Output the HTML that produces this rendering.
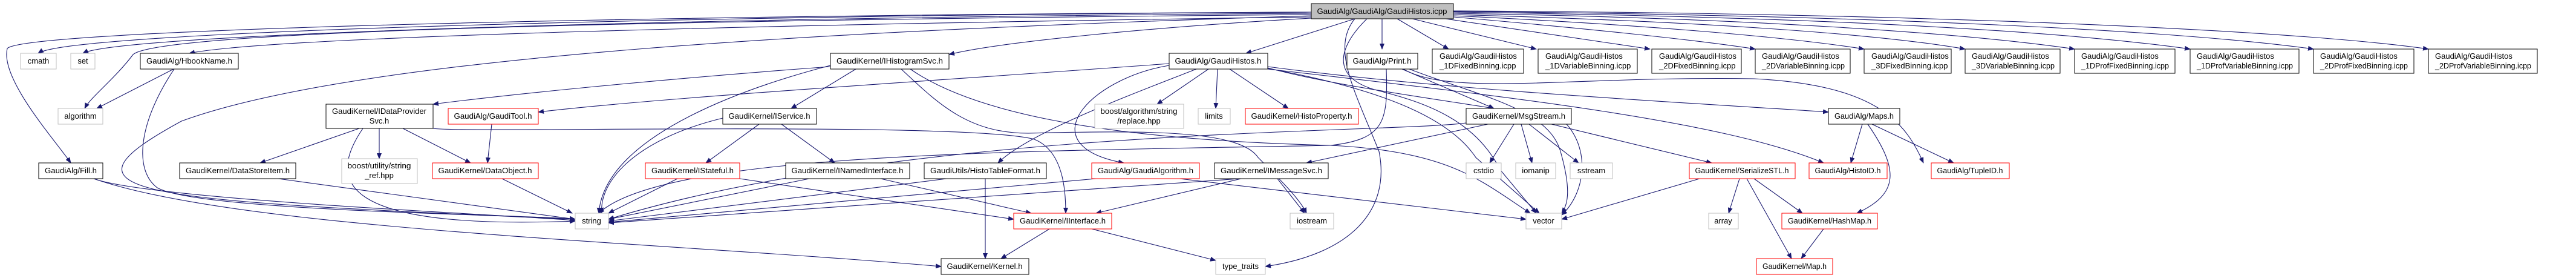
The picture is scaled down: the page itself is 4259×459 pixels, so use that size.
<!DOCTYPE html>
<html><head><meta charset="utf-8"><style>
html,body{margin:0;padding:0;background:#fff;}
svg{display:block;}
text{font-family:"Liberation Sans",sans-serif;font-size:13px;fill:#000;}
.e{fill:none;stroke:#191970;stroke-width:1.1;marker-end:url(#a);}
.n{fill:#fff;stroke:#000;stroke-width:1;}
.r{fill:#fff;stroke:#ff0000;stroke-width:1;}
.g{fill:#fff;stroke:#bfbfbf;stroke-width:1;}
</style></head><body>
<svg width="4259" height="459" viewBox="0 0 4259 459" xmlns="http://www.w3.org/2000/svg">
<defs><marker id="a" markerUnits="userSpaceOnUse" markerWidth="10" markerHeight="8" refX="9" refY="4" orient="auto"><path d="M0,0 L10,4 L0,8 z" fill="#191970"/></marker></defs>
<!-- edges from root -->
<path class="e" d="M2168,20 C1200,25 120,50 63,88"/>
<path class="e" d="M2168,22 C1200,28 200,55 137,88"/>
<path class="e" d="M2168,28 C1300,40 450,60 313,88"/>
<path class="e" d="M2168,24 C900,35 260,55 220,90 C190,130 150,160 140,179"/>
<path class="e" d="M2168,20 C1000,25 40,50 12,80 C0,130 90,230 117,269"/>
<path class="e" d="M2168,26 C1400,50 600,90 300,200 C80,320 200,330 951,362"/>
<path class="e" d="M2168,30 C1900,45 1650,70 1569,90"/>
<path class="e" d="M2240,31 L2060,88"/>
<path class="e" d="M2285,31 L2285,81"/>
<path class="e" d="M2310,31 L2395,81"/>
<path class="e" d="M2335,31 L2540,81"/>
<path class="e" d="M2390,31 L2728,81"/>
<path class="e" d="M2403,28 C2600,45 2800,65 2902,81"/>
<path class="e" d="M2403,26 C2700,40 2950,60 3082,81"/>
<path class="e" d="M2403,24 C2800,35 3100,55 3249,81"/>
<path class="e" d="M2403,22 C2900,30 3250,55 3430,81"/>
<path class="e" d="M2403,20 C3000,28 3400,50 3621,81"/>
<path class="e" d="M2403,19 C3100,25 3600,50 3825,81"/>
<path class="e" d="M2403,18 C3200,22 3800,50 4015,81"/>
<path class="e" d="M2240,31 C2200,80 2240,150 2280,250 C2300,350 2230,420 2092,440"/>
<path class="e" d="M2260,31 C2210,80 2200,130 2280,150 C2360,170 2440,200 2480,280 L2540,352"/>
<!-- IHistogramSvc -->
<path class="e" d="M1373,110 C1100,130 850,155 716,172"/>
<path class="e" d="M1415,114 L1308,179"/>
<path class="e" d="M1373,108 C1250,140 1000,220 990,352"/>
<path class="e" d="M1490,114 C1550,170 1600,220 1700,220 C1900,215 2050,215 2080,260 C2120,300 2150,330 2160,352"/>
<path class="e" d="M1505,114 C1600,180 1800,230 2200,240 C2400,250 2450,300 2530,352"/>
<!-- GaudiHistos.h -->
<path class="e" d="M1933,105 C1600,130 1100,160 890,185"/>
<path class="e" d="M1978,114 C1860,160 1700,220 1650,269"/>
<path class="e" d="M1933,108 C1800,130 1700,240 1858,269"/>
<path class="e" d="M1998,114 L1913,172"/>
<path class="e" d="M2013,114 L2010,179"/>
<path class="e" d="M2033,114 L2130,179"/>
<path class="e" d="M2096,112 C2200,140 2350,160 2470,179"/>
<path class="e" d="M2096,110 C2400,150 2800,170 3023,185"/>
<path class="e" d="M2096,114 C2500,160 2850,200 3015,269"/>
<path class="e" d="M2096,113 C2300,150 2400,200 2440,260 L2545,352"/>
<!-- Print.h -->
<path class="e" d="M2292,114 C2295,200 2290,230 2200,240 C1700,250 1100,250 990,352"/>
<path class="e" d="M2318,114 L2470,179"/>
<path class="e" d="M2320,114 C2400,160 2600,125 2900,130 C3100,140 3150,200 3180,269"/>
<path class="e" d="M2330,114 C2450,160 2560,180 2580,250 C2600,320 2590,340 2582,352"/>
<!-- MsgStream -->
<path class="e" d="M2424,203 C2300,220 1500,210 1006,362"/>
<path class="e" d="M2460,205 L2160,269"/>
<path class="e" d="M2503,205 L2463,269"/>
<path class="e" d="M2515,205 L2533,269"/>
<path class="e" d="M2528,205 L2610,269"/>
<path class="e" d="M2565,205 L2830,269"/>
<path class="e" d="M2590,205 C2630,250 2620,320 2582,355"/>
<!-- Maps -->
<path class="e" d="M3079,205 L3060,269"/>
<path class="e" d="M3095,205 L3230,269"/>
<path class="e" d="M3088,205 C3140,280 3140,320 3070,352"/>
<!-- DataProviderSvc -->
<path class="e" d="M594,212 L430,269"/>
<path class="e" d="M627,212 L627,262"/>
<path class="e" d="M666,212 L778,269"/>
<path class="e" d="M600,212 C540,300 560,380 951,365"/>
<path class="e" d="M716,212 C760,220 1600,200 1710,230 C1760,250 1762,320 1762,352"/>
<!-- others -->
<path class="e" d="M813,205 L806,269"/>
<path class="e" d="M1255,205 L1167,269"/>
<path class="e" d="M1292,205 L1380,269"/>
<path class="e" d="M1195,195 C1050,230 990,300 995,352"/>
<path class="e" d="M288,114 C230,200 220,280 260,310 C330,350 900,355 951,362"/>
<path class="e" d="M287,114 L160,179"/>
<path class="e" d="M155,295 C250,330 850,355 951,364"/>
<path class="e" d="M155,295 C400,380 1100,400 1556,440"/>
<path class="e" d="M460,295 L951,362"/>
<path class="e" d="M830,295 L946,352"/>
<path class="e" d="M1120,295 L1006,352"/>
<path class="e" d="M1223,295 L1676,362"/>
<path class="e" d="M1338,295 L1006,362"/>
<path class="e" d="M1456,295 L1705,352"/>
<path class="e" d="M1565,295 L1006,365"/>
<path class="e" d="M1629,295 L1629,427"/>
<path class="e" d="M1812,295 L1006,367"/>
<path class="e" d="M1950,295 L2523,362"/>
<path class="e" d="M2050,295 L1006,368"/>
<path class="e" d="M2052,295 L1812,352"/>
<path class="e" d="M2112,295 L2157,352"/>
<path class="e" d="M1735,378 L1655,427"/>
<path class="e" d="M1805,378 L2010,430"/>
<path class="e" d="M2810,295 L2582,362"/>
<path class="e" d="M2876,295 L2858,352"/>
<path class="e" d="M2900,295 L2980,352"/>
<path class="e" d="M2888,295 L2962,427"/>
<path class="e" d="M3015,378 L2978,427"/>
<!-- nodes -->
<rect x="2168" y="6" width="235" height="25" fill="#bfbfbf" stroke="#000"/>
<text x="2285" y="23" text-anchor="middle" textLength="215" lengthAdjust="spacingAndGlyphs">GaudiAlg/GaudiAlg/GaudiHistos.icpp</text>
<rect class="g" x="34" y="88" width="59" height="26"/><text x="63.5" y="105" text-anchor="middle">cmath</text>
<rect class="g" x="117" y="88" width="40" height="26"/><text x="137" y="105" text-anchor="middle">set</text>
<rect class="n" x="232" y="88" width="162" height="26"/><text x="313" y="105" text-anchor="middle" textLength="142" lengthAdjust="spacingAndGlyphs">GaudiAlg/HbookName.h</text>
<rect class="n" x="1373" y="88" width="196" height="26"/><text x="1471" y="105" text-anchor="middle" textLength="176" lengthAdjust="spacingAndGlyphs">GaudiKernel/IHistogramSvc.h</text>
<rect class="n" x="1933" y="88" width="163" height="26"/><text x="2014" y="105" text-anchor="middle" textLength="143" lengthAdjust="spacingAndGlyphs">GaudiAlg/GaudiHistos.h</text>
<rect class="n" x="2227" y="88" width="117" height="26"/><text x="2285" y="105" text-anchor="middle" textLength="97" lengthAdjust="spacingAndGlyphs">GaudiAlg/Print.h</text>
<g>
<rect class="n" x="2368" y="81" width="151" height="40"/><text x="2380" y="97">GaudiAlg/GaudiHistos</text><text x="2380" y="113">_1DFixedBinning.icpp</text>
<rect class="n" x="2543" y="81" width="164" height="40"/><text x="2555" y="97">GaudiAlg/GaudiHistos</text><text x="2555" y="113">_1DVariableBinning.icpp</text>
<rect class="n" x="2731" y="81" width="148" height="40"/><text x="2743" y="97">GaudiAlg/GaudiHistos</text><text x="2743" y="113">_2DFixedBinning.icpp</text>
<rect class="n" x="2902" y="81" width="157" height="40"/><text x="2913" y="97">GaudiAlg/GaudiHistos</text><text x="2913" y="113" textLength="137" lengthAdjust="spacingAndGlyphs">_2DVariableBinning.icpp</text>
<rect class="n" x="3082" y="81" width="144" height="40"/><text x="3094" y="97">GaudiAlg/GaudiHistos</text><text x="3094" y="113">_3DFixedBinning.icpp</text>
<rect class="n" x="3249" y="81" width="157" height="40"/><text x="3260" y="97">GaudiAlg/GaudiHistos</text><text x="3260" y="113" textLength="137" lengthAdjust="spacingAndGlyphs">_3DVariableBinning.icpp</text>
<rect class="n" x="3430" y="81" width="166" height="40"/><text x="3441" y="97">GaudiAlg/GaudiHistos</text><text x="3441" y="113" textLength="145" lengthAdjust="spacingAndGlyphs">_1DProfFixedBinning.icpp</text>
<rect class="n" x="3621" y="81" width="180" height="40"/><text x="3632" y="97">GaudiAlg/GaudiHistos</text><text x="3632" y="113" textLength="159" lengthAdjust="spacingAndGlyphs">_1DProfVariableBinning.icpp</text>
<rect class="n" x="3825" y="81" width="166" height="40"/><text x="3836" y="97">GaudiAlg/GaudiHistos</text><text x="3836" y="113" textLength="145" lengthAdjust="spacingAndGlyphs">_2DProfFixedBinning.icpp</text>
<rect class="n" x="4015" y="81" width="180" height="40"/><text x="4026" y="97">GaudiAlg/GaudiHistos</text><text x="4026" y="113" textLength="159" lengthAdjust="spacingAndGlyphs">_2DProfVariableBinning.icpp</text>
</g>
<rect class="g" x="96" y="179" width="74" height="26"/><text x="133" y="196" text-anchor="middle">algorithm</text>
<rect class="n" x="539" y="172" width="177" height="40"/><text x="627" y="188" text-anchor="middle" textLength="156" lengthAdjust="spacingAndGlyphs">GaudiKernel/IDataProvider</text><text x="627" y="204" text-anchor="middle">Svc.h</text>
<rect class="r" x="741" y="179" width="149" height="26"/><text x="815" y="196" text-anchor="middle" textLength="129" lengthAdjust="spacingAndGlyphs">GaudiAlg/GaudiTool.h</text>
<rect class="n" x="1195" y="179" width="155" height="26"/><text x="1272" y="196" text-anchor="middle" textLength="135" lengthAdjust="spacingAndGlyphs">GaudiKernel/IService.h</text>
<rect class="g" x="1810" y="172" width="147" height="40"/><text x="1883" y="188" text-anchor="middle" textLength="127" lengthAdjust="spacingAndGlyphs">boost/algorithm/string</text><text x="1883" y="204" text-anchor="middle">/replace.hpp</text>
<rect class="g" x="1981" y="179" width="53" height="26"/><text x="2007" y="196" text-anchor="middle">limits</text>
<rect class="r" x="2059" y="179" width="187" height="26"/><text x="2152" y="196" text-anchor="middle" textLength="167" lengthAdjust="spacingAndGlyphs">GaudiKernel/HistoProperty.h</text>
<rect class="n" x="2424" y="179" width="174" height="26"/><text x="2511" y="196" text-anchor="middle" textLength="154" lengthAdjust="spacingAndGlyphs">GaudiKernel/MsgStream.h</text>
<rect class="n" x="3023" y="179" width="118" height="26"/><text x="3082" y="196" text-anchor="middle" textLength="98" lengthAdjust="spacingAndGlyphs">GaudiAlg/Maps.h</text>
<rect class="n" x="64" y="269" width="106" height="26"/><text x="117" y="286" text-anchor="middle" textLength="86" lengthAdjust="spacingAndGlyphs">GaudiAlg/Fill.h</text>
<rect class="n" x="297" y="269" width="192" height="26"/><text x="393" y="286" text-anchor="middle" textLength="172" lengthAdjust="spacingAndGlyphs">GaudiKernel/DataStoreItem.h</text>
<rect class="g" x="565" y="262" width="125" height="41"/><text x="627" y="278" text-anchor="middle" textLength="105" lengthAdjust="spacingAndGlyphs">boost/utility/string</text><text x="627" y="294" text-anchor="middle">_ref.hpp</text>
<rect class="r" x="715" y="269" width="175" height="26"/><text x="802" y="286" text-anchor="middle" textLength="155" lengthAdjust="spacingAndGlyphs">GaudiKernel/DataObject.h</text>
<rect class="r" x="1067" y="269" width="156" height="26"/><text x="1145" y="286" text-anchor="middle" textLength="136" lengthAdjust="spacingAndGlyphs">GaudiKernel/IStateful.h</text>
<rect class="n" x="1299" y="269" width="205" height="26"/><text x="1401" y="286" text-anchor="middle" textLength="185" lengthAdjust="spacingAndGlyphs">GaudiKernel/INamedInterface.h</text>
<rect class="n" x="1528" y="269" width="202" height="26"/><text x="1629" y="286" text-anchor="middle" textLength="182" lengthAdjust="spacingAndGlyphs">GaudiUtils/HistoTableFormat.h</text>
<rect class="r" x="1805" y="269" width="178" height="26"/><text x="1894" y="286" text-anchor="middle" textLength="158" lengthAdjust="spacingAndGlyphs">GaudiAlg/GaudiAlgorithm.h</text>
<rect class="n" x="2008" y="269" width="188" height="26"/><text x="2102" y="286" text-anchor="middle" textLength="168" lengthAdjust="spacingAndGlyphs">GaudiKernel/IMessageSvc.h</text>
<rect class="g" x="2424" y="269" width="58" height="26"/><text x="2453" y="286" text-anchor="middle">cstdio</text>
<rect class="g" x="2506" y="269" width="66" height="26"/><text x="2539" y="286" text-anchor="middle">iomanip</text>
<rect class="g" x="2596" y="269" width="70" height="26"/><text x="2631" y="286" text-anchor="middle">sstream</text>
<rect class="r" x="2793" y="269" width="175" height="26"/><text x="2880" y="286" text-anchor="middle" textLength="155" lengthAdjust="spacingAndGlyphs">GaudiKernel/SerializeSTL.h</text>
<rect class="r" x="2991" y="269" width="129" height="26"/><text x="3055" y="286" text-anchor="middle" textLength="109" lengthAdjust="spacingAndGlyphs">GaudiAlg/HistoID.h</text>
<rect class="r" x="3193" y="269" width="129" height="26"/><text x="3257" y="286" text-anchor="middle" textLength="109" lengthAdjust="spacingAndGlyphs">GaudiAlg/TupleID.h</text>
<rect class="g" x="951" y="352" width="55" height="26"/><text x="978" y="369" text-anchor="middle">string</text>
<rect class="r" x="1676" y="352" width="162" height="26"/><text x="1757" y="369" text-anchor="middle" textLength="142" lengthAdjust="spacingAndGlyphs">GaudiKernel/IInterface.h</text>
<rect class="g" x="2133" y="352" width="72" height="26"/><text x="2169" y="369" text-anchor="middle">iostream</text>
<rect class="g" x="2523" y="352" width="59" height="26"/><text x="2552" y="369" text-anchor="middle">vector</text>
<rect class="g" x="2825" y="352" width="49" height="26"/><text x="2849" y="369" text-anchor="middle">array</text>
<rect class="r" x="2946" y="352" width="158" height="26"/><text x="3025" y="369" text-anchor="middle" textLength="138" lengthAdjust="spacingAndGlyphs">GaudiKernel/HashMap.h</text>
<rect class="n" x="1556" y="427" width="145" height="26"/><text x="1628" y="444" text-anchor="middle" textLength="125" lengthAdjust="spacingAndGlyphs">GaudiKernel/Kernel.h</text>
<rect class="g" x="2010" y="427" width="82" height="26"/><text x="2051" y="444" text-anchor="middle">type_traits</text>
<rect class="r" x="2904" y="427" width="126" height="26"/><text x="2967" y="444" text-anchor="middle" textLength="106" lengthAdjust="spacingAndGlyphs">GaudiKernel/Map.h</text>
</svg>
</body></html>
